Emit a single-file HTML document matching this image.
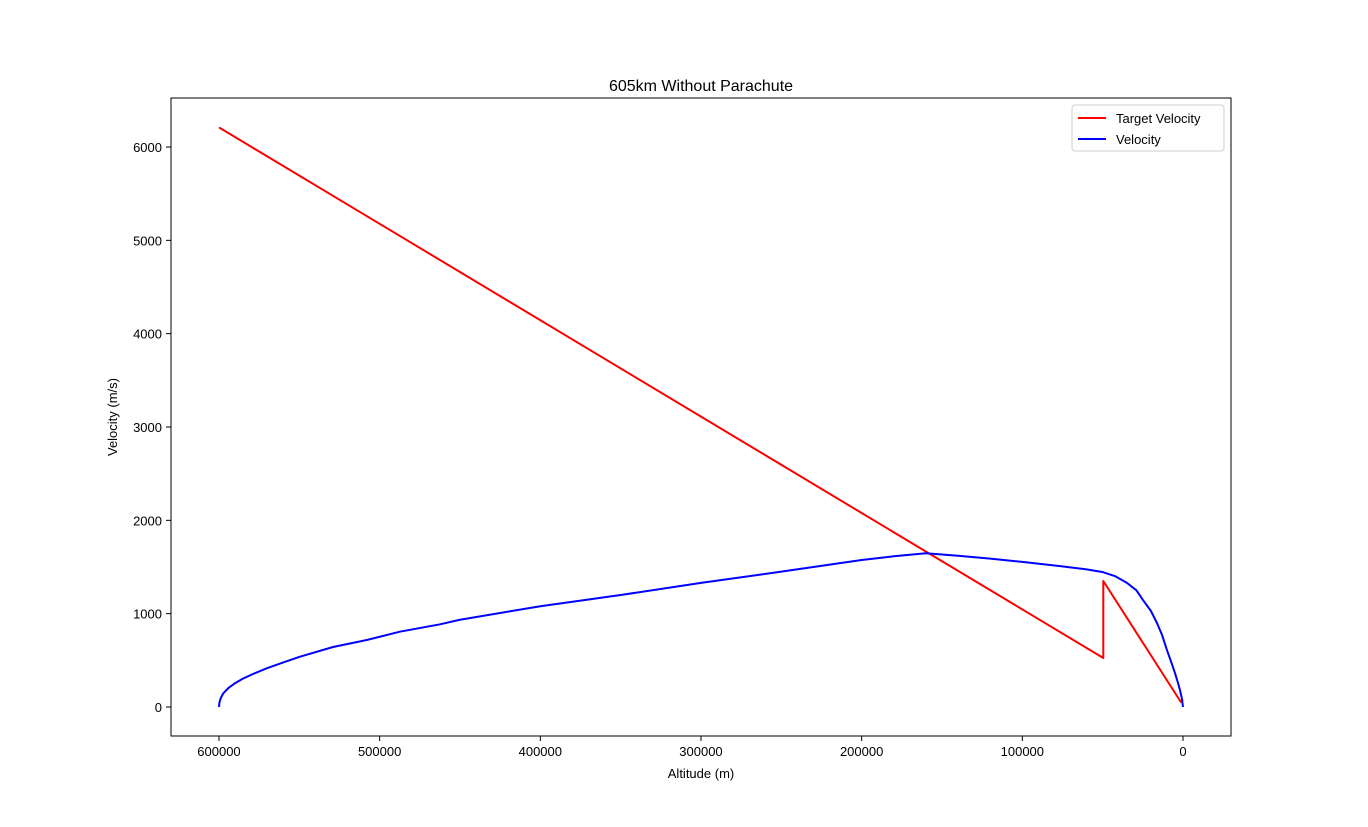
<!DOCTYPE html>
<html><head><meta charset="utf-8"><style>
body{margin:0;background:#fff;}
svg{display:block;font-family:"Liberation Sans","DejaVu Sans",sans-serif;}
</style></head><body>
<svg id="chart" width="1368" height="827">
<rect x="0" y="0" width="1368" height="827" fill="#fff"/>
<text x="701" y="91" font-size="16" text-anchor="middle">605km Without Parachute</text>
<g id="xticks"></g>
<g id="yticks"></g>
<g id="series"></g>
<rect x="171" y="98" width="1060" height="638" fill="none" stroke="#000" stroke-width="1"/>
<text x="701" y="778" font-size="13" text-anchor="middle">Altitude (m)</text>
<text x="117" y="417" font-size="13" text-anchor="middle" transform="rotate(-90 117 417)">Velocity (m/s)</text>
<g>
<rect x="1072" y="105" width="152" height="46" rx="3" fill="#fff" stroke="#ccc"/>
<line x1="1078" y1="118" x2="1106" y2="118" stroke="red" stroke-width="2"/>
<text x="1116" y="123" font-size="13">Target Velocity</text>
<line x1="1078" y1="139" x2="1106" y2="139" stroke="blue" stroke-width="2"/>
<text x="1116" y="144" font-size="13">Velocity</text>
</g>
</svg>
<script>
const xTicks=[600000,500000,400000,300000,200000,100000,0];
const yTicks=[0,1000,2000,3000,4000,5000,6000];
const targetAlt=[600000,49600,49600,1400,0];
const targetVel=[6210,525,1350,55,80];
const velAlt=[600000,599700,599000,598000,597300,594000,590000,585000,578000,570300,560000,549600,529000,508000,487400,462400,450000,400000,350000,300000,250000,200000,180000,160000,140000,120000,100000,76500,60000,49800,42000,34900,29000,24900,20000,16200,13000,10000,7500,5000,3500,1900,800,0];
const velVel=[0,50,90,125,147,205,255,305,360,414,478,539,643,718,807,886,935,1080,1200,1330,1450,1575,1615,1648,1620,1590,1555,1510,1475,1445,1400,1330,1250,1146,1030,900,770,610,490,364,280,182,100,0];
function xs(a){return 1183-(a/100000)*160.67;}
function ys(v){return 707-(v/1000)*93.33;}
const NS='http://www.w3.org/2000/svg';
const gx=document.getElementById('xticks'),gy=document.getElementById('yticks'),gs=document.getElementById('series');
xTicks.forEach(t=>{
 const x=xs(t);
 const l=document.createElementNS(NS,'line');
 l.setAttribute('x1',x);l.setAttribute('x2',x);l.setAttribute('y1',736);l.setAttribute('y2',741);l.setAttribute('stroke','#000');
 
 
 gx.appendChild(l);
 const tx=document.createElementNS(NS,'text');
 tx.setAttribute('x',x);tx.setAttribute('y',756);tx.setAttribute('font-size','13');tx.setAttribute('text-anchor','middle');
 tx.textContent=t;
 
 
 gx.appendChild(tx);
});
yTicks.forEach(t=>{
 const y=ys(t);
 const l=document.createElementNS(NS,'line');
 l.setAttribute('x1',166);l.setAttribute('x2',171);l.setAttribute('y1',y);l.setAttribute('y2',y);l.setAttribute('stroke','#000');
 
 
 gy.appendChild(l);
 const tx=document.createElementNS(NS,'text');
 tx.setAttribute('x',162);tx.setAttribute('y',y+5);tx.setAttribute('font-size','13');tx.setAttribute('text-anchor','end');
 tx.textContent=t;
 
 
 gy.appendChild(tx);
});
function line(al,vl,color,name){
 const p=document.createElementNS(NS,'polyline');
 p.setAttribute('points',al.map((a,i)=>xs(a)+','+ys(vl[i])).join(' '));
 p.setAttribute('fill','none');p.setAttribute('stroke',color);p.setAttribute('stroke-width','2');p.setAttribute('stroke-linejoin','round');
 
 
 gs.appendChild(p);
}
line(targetAlt,targetVel,'red','target-velocity-line');
line(velAlt,velVel,'blue','velocity-line');
</script>
</body></html>
